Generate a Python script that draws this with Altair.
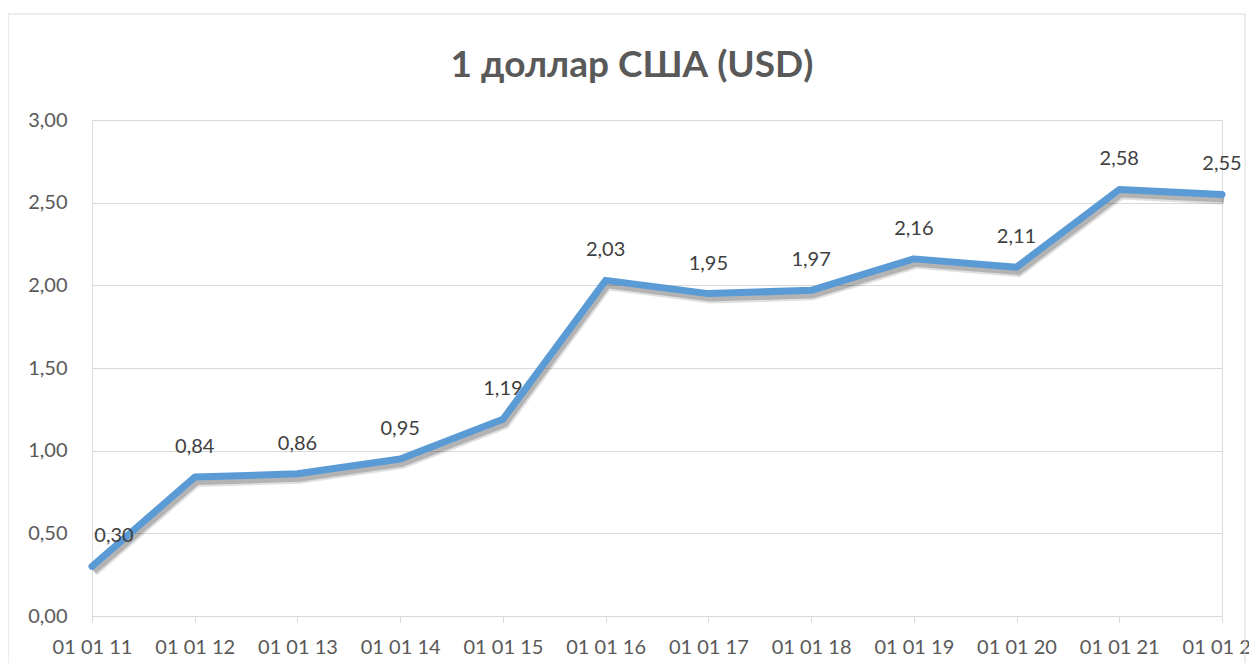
import altair as alt
import pandas as pd

title_text = "1 доллар США (USD)"
dates = ["01 01 11", "01 01 12", "01 01 13", "01 01 14", "01 01 15", "01 01 16",
         "01 01 17", "01 01 18", "01 01 19", "01 01 20", "01 01 21", "01 01 22"]
values = [0.30, 0.84, 0.86, 0.95, 1.19, 2.03, 1.95, 1.97, 2.16, 2.11, 2.58, 2.55]
y_ticks = [0, 0.5, 1.0, 1.5, 2.0, 2.5, 3.0]

df = pd.DataFrame({"date": dates, "value": values, "idx": list(range(len(dates)))})

FONT = "Lato"
x_enc = alt.X("date:N", sort=dates, title=None,
              scale=alt.Scale(type="point", padding=0),
              axis=alt.Axis(labelAngle=0, grid=False, domainColor="#d9d9d9", tickColor="#d9d9d9",
                            tickSize=6, labelPadding=15, labelFontSize=20, labelColor="#595959",
                            labelFont=FONT, labelOverlap=False, labelFlush=False))
y_enc = alt.Y("value:Q", title=None,
              scale=alt.Scale(domain=[0, 3], nice=False),
              axis=alt.Axis(values=y_ticks, ticks=False, domain=False, gridColor="#d9d9d9",
                            labelPadding=25, labelFontSize=20, labelColor="#595959", labelFont=FONT,
                            labelExpr="replace(format(datum.value, '.2f'), '.', ',')"))

base = alt.Chart(df)

border = base.mark_rect(fill=None, stroke="#d9d9d9", strokeWidth=1).encode(
    x=alt.value(-84), x2=alt.value(1153), y=alt.value(-106), y2=alt.value(560)
).transform_filter("datum.idx == 0")

title = base.transform_filter("datum.idx == 0").transform_calculate(t=f"'{title_text}'").mark_text(
    fontSize=37, font=FONT, fontWeight="bold", color="#595959", baseline="middle", align="center"
).encode(x=alt.value(540), y=alt.value(-54), text="t:N")

shadow1 = base.mark_line(color="#000000", opacity=0.12, strokeWidth=10, xOffset=2, yOffset=5,
                         strokeJoin="miter").encode(x=x_enc, y=y_enc)
shadow2 = base.mark_line(color="#000000", opacity=0.2, strokeWidth=6, xOffset=2, yOffset=5,
                         strokeJoin="miter").encode(x=x_enc, y=y_enc)
line = base.mark_line(color="#5b9bd5", strokeWidth=7, strokeJoin="round", strokeCap="round").encode(
    x=x_enc, y=y_enc)

labels = base.transform_calculate(
    label="replace(format(datum.value, '.2f'), '.', ',')"
).transform_filter("datum.idx > 0").mark_text(
    dy=-30, fontSize=20, font=FONT, color="#404040"
).encode(x=x_enc, y=y_enc, text="label:N")

first_label = base.transform_calculate(
    label="replace(format(datum.value, '.2f'), '.', ',')"
).transform_filter("datum.idx == 0").mark_text(
    dy=-30, dx=22, fontSize=20, font=FONT, color="#404040"
).encode(x=x_enc, y=y_enc, text="label:N")

chart = alt.layer(border, title, shadow1, shadow2, line, labels, first_label).properties(
    width=1130, height=496,
    autosize=alt.AutoSizeParams(type="none"),
    padding={"left": 84, "top": 112, "right": 27, "bottom": 47},
).configure_view(stroke=None).configure(background="white")

chart.save("out.html", embed_options={"renderer": "svg", "actions": False})
